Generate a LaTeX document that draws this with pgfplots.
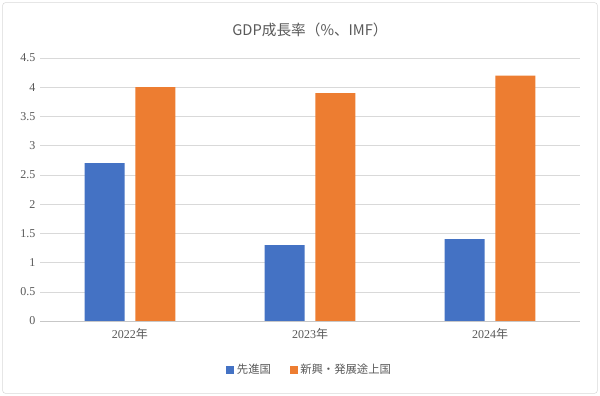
\documentclass[border=0pt]{standalone}
\usepackage{pgfplots}
\pgfplotsset{compat=1.18}
\usepackage{fontspec}
\setmainfont{Liberation Serif}
\newfontfamily\jp{Noto Sans CJK JP}
\definecolor{cblue}{HTML}{4472C4}
\definecolor{corange}{HTML}{ED7D31}
\definecolor{tgray}{HTML}{595959}
\definecolor{ggray}{HTML}{D9D9D9}
\begin{document}
\begin{tikzpicture}
\fill[white] (0,0) rectangle (450pt,297pt);
\draw[ggray, rounded corners=2pt] (2pt,2pt) rectangle (448pt,295pt);
\begin{axis}[
  at={(30pt,56.25pt)}, anchor=south west,
  scale only axis, width=405pt, height=197.25pt,
  xmin=-0.5, xmax=2.5, ymin=0, ymax=4.5,
  ytick={0,0.5,...,4.5},
  xtick={0,1,2},
  xticklabels={{2022\jp 年},{2023\jp 年},{2024\jp 年}},
  yticklabel style={/pgf/number format/assume math mode=true, font=\fontsize{9}{10}\selectfont, text=tgray},
  xticklabel style={font=\fontsize{9}{10}\selectfont, text=tgray, yshift=-2pt},
  major tick length=0pt,
  axis y line*=left, y axis line style={draw=none},
  axis x line*=bottom, x axis line style={draw=ggray!80!gray},
  ymajorgrids, grid style={ggray},
  ybar, bar width=30pt,
  title={\jp GDP成長率（\%、IMF）},
  title style={font=\fontsize{11}{12}\selectfont, text=tgray, at={(0.5,1.032)}, anchor=south},
  legend style={at={(0.5,-0.142)}, anchor=north, draw=none, legend columns=2,
    font=\jp\fontsize{8.5}{10}\selectfont, text=tgray,
    /tikz/every even column/.append style={column sep=12pt}},
  legend image code/.code={\fill[#1] (0pt,-3pt) rectangle (6pt,3pt);},
]
\addplot[fill=cblue, draw=none, bar shift=-19pt] coordinates {(0,2.7) (1,1.3) (2,1.4)};
\addplot[fill=corange, draw=none, bar shift=19pt] coordinates {(0,4.0) (1,3.9) (2,4.2)};
\legend{先進国,新興・発展途上国}
\end{axis}
\end{tikzpicture}
\end{document}
